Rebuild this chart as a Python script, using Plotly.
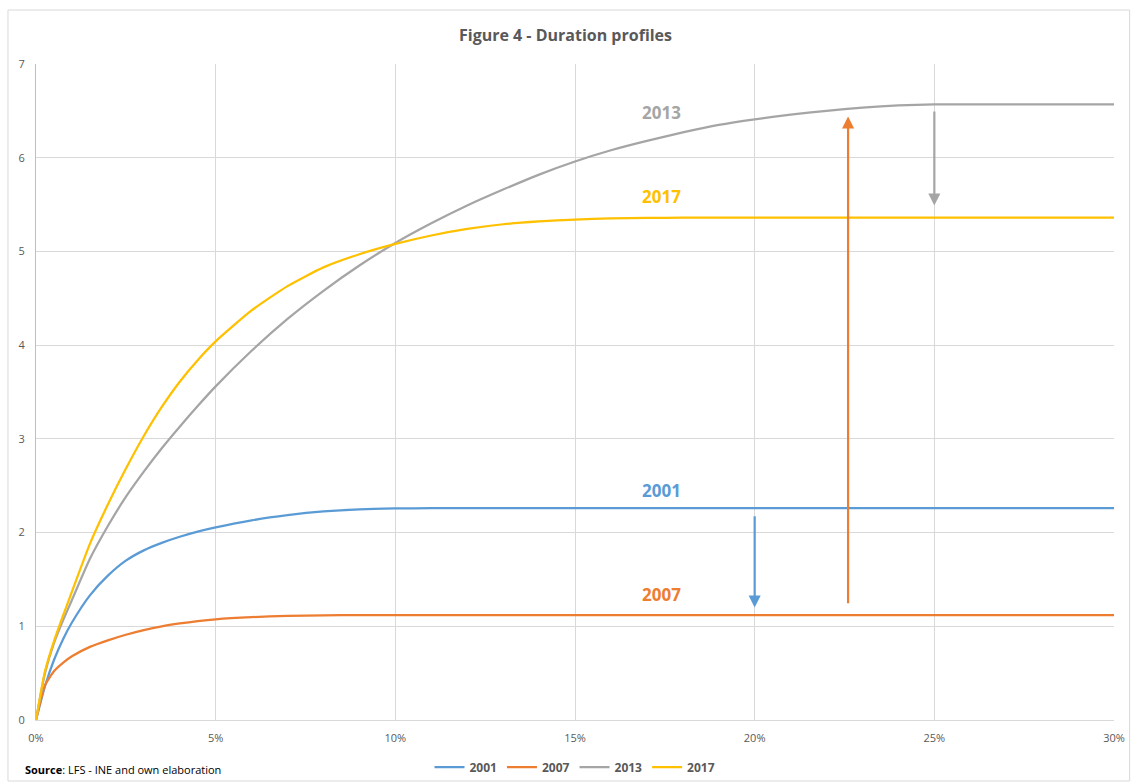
import plotly.graph_objects as go

# share of population (%) on x axis
x_pct = [0, 0.25, 0.5, 0.75, 1, 1.5, 2, 2.5, 3, 3.5, 4, 4.5, 5, 6, 7, 8, 9, 10, 11, 12, 13, 14,
         15, 16, 17, 18, 19, 20, 21, 22, 23, 24, 25, 26, 28, 30]

d2001 = [0, 0.36, 0.64, 0.86, 1.04, 1.33, 1.54, 1.70, 1.81, 1.89, 1.955, 2.01, 2.055, 2.13, 2.185, 2.225, 2.248, 2.257,
         2.26, 2.26, 2.26, 2.26, 2.26, 2.26, 2.26, 2.26, 2.26, 2.26, 2.26, 2.26, 2.26, 2.26, 2.26, 2.26, 2.26, 2.26]
d2007 = [0, 0.37, 0.52, 0.61, 0.68, 0.78, 0.85, 0.91, 0.96, 1.00, 1.03, 1.055, 1.075, 1.098, 1.111, 1.117, 1.12, 1.12,
         1.12, 1.12, 1.12, 1.12, 1.12, 1.12, 1.12, 1.12, 1.12, 1.12, 1.12, 1.12, 1.12, 1.12, 1.12, 1.12, 1.12, 1.12]
d2013 = [0, 0.50, 0.82, 1.06, 1.28, 1.72, 2.07, 2.38, 2.65, 2.90, 3.13, 3.35, 3.56, 3.94, 4.28, 4.58, 4.85, 5.09,
         5.30, 5.49, 5.66, 5.82, 5.96, 6.08, 6.18, 6.27, 6.35, 6.41, 6.46, 6.50, 6.535, 6.558, 6.568, 6.57, 6.57, 6.57]
d2017 = [0, 0.52, 0.84, 1.11, 1.37, 1.88, 2.30, 2.68, 3.03, 3.34, 3.61, 3.84, 4.04, 4.37, 4.63, 4.83, 4.97, 5.08,
         5.17, 5.24, 5.29, 5.32, 5.34, 5.352, 5.358, 5.36, 5.36, 5.36, 5.36, 5.36, 5.36, 5.36, 5.36, 5.36, 5.36, 5.36]

series_names = ["2001", "2007", "2013", "2017"]
series_vals = [d2001, d2007, d2013, d2017]
colors = ["#5B9BD5", "#ED7D31", "#A5A5A5", "#FFC000"]

# curve labels (x %, y)
label_pos = [(17.4, 2.45), (17.4, 1.34), (17.4, 6.48), (17.4, 5.59)]

# arrows: (x, y_start, y_end, color)
arrows = [(20.0, 2.19, 1.20, "#5B9BD5"), (22.6, 1.23, 6.44, "#ED7D31"), (25.0, 6.51, 5.49, "#A5A5A5")]

fig = go.Figure()
for name, vals, col in zip(series_names, series_vals, colors):
    fig.add_trace(go.Scatter(x=x_pct, y=vals, name=name, mode="lines",
                             line=dict(color=col, width=2.25, shape="spline", smoothing=0.55)))

annotations = []
for (lx, ly), name, col in zip(label_pos, series_names, colors):
    annotations.append(dict(x=lx, y=ly, xref="x", yref="y", text="<b>%s</b>" % name, showarrow=False,
                            font=dict(family="Open Sans", size=17, color=col)))
for ax_, y0, y1, col in arrows:
    annotations.append(dict(x=ax_, y=y1, ax=ax_, ay=y0, xref="x", yref="y", axref="x", ayref="y",
                            text="", showarrow=True, arrowhead=2, arrowsize=1.1, arrowwidth=2.2,
                            arrowcolor=col, standoff=0, startstandoff=0))
annotations.append(dict(x=-0.012, y=-0.076, xref="paper", yref="paper", xanchor="left", yanchor="middle",
                        text="<b>Source</b>: LFS - INE and own elaboration", showarrow=False,
                        font=dict(family="Open Sans", size=11, color="#000000")))

fig.update_layout(
    width=1131, height=782,
    margin=dict(l=36, r=17, t=64, b=62, autoexpand=False),
    paper_bgcolor="white", plot_bgcolor="white",
    title=dict(text="<b>Figure 4 - Duration profiles</b>", x=0.5, xanchor="center",
               y=1 - 35 / 782, yanchor="middle", yref="container",
               font=dict(family="Open Sans", size=16, color="#595959")),
    font=dict(family="Open Sans", size=11, color="#595959"),
    legend=dict(orientation="h", x=0.5, xanchor="center", y=-0.072, yanchor="middle",
                bgcolor="rgba(0,0,0,0)",
                font=dict(family="Open Sans", size=12, color="#595959", weight="bold"),
                itemwidth=30, tracegroupgap=0),
    showlegend=True,
    annotations=annotations,
    shapes=[dict(type="rect", xref="paper", yref="paper", x0=-0.026, x1=1.0145, y0=-0.093, y1=1.0823,
                 line=dict(color="#D9D9D9", width=1), fillcolor="rgba(0,0,0,0)", layer="below")],
)
fig.update_xaxes(range=[0, 30], dtick=5, ticksuffix="%", showgrid=True, gridcolor="#D9D9D9", gridwidth=1,
                 showline=True, linecolor="#D9D9D9", linewidth=1, zeroline=False, ticks="",
                 ticklabelstandoff=8, tickfont=dict(size=11, color="#595959"), mirror=False)
fig.update_yaxes(range=[0, 7], dtick=1, showgrid=True, gridcolor="#D9D9D9", gridwidth=1,
                 showline=True, linecolor="#BFBFBF", linewidth=1, zeroline=False, ticks="",
                 ticklabelstandoff=8, tickfont=dict(size=11, color="#595959"))

fig.write_html("out.html", config={"displayModeBar": False},
               post_script="document.body.style.margin='0px';")
